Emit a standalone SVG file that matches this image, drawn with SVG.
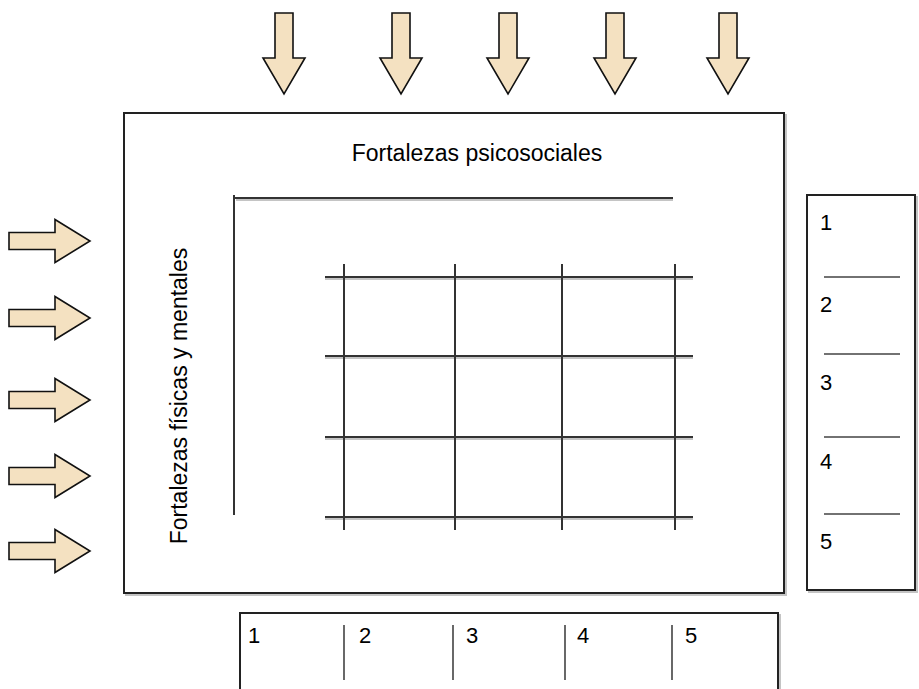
<svg xmlns="http://www.w3.org/2000/svg" width="919" height="689" viewBox="0 0 919 689">
  <style>
    .arrow { fill: #f4e1c1; stroke: #111; stroke-width: 1.6; stroke-linejoin: miter; }
    .frame { fill: #fff; stroke: #222; stroke-width: 2; }
    .shadow { fill: none; stroke: #c4c4c4; stroke-width: 2; }
    .line { fill: none; stroke: #333; stroke-width: 2; }
    .sep { fill: none; stroke: #444; stroke-width: 1.6; }
    .label { font-family: "Liberation Sans", Arial, sans-serif; fill: #000; }
    .num { font-family: "Liberation Sans", Arial, sans-serif; font-size: 22px; fill: #000; }
  </style>
  <defs>
    <path id="arrowDown" class="arrow" d="M -9 13 L 9 13 L 9 58 L 21 58 L 0 94 L -21 58 L -9 58 Z"/>
    <path id="arrowRight" class="arrow" d="M 9 -8.5 L 55 -8.5 L 55 -21.5 L 90 0 L 55 21.5 L 55 8.5 L 9 8.5 Z"/>
  </defs>
  <rect width="919" height="689" fill="#fff"/>

  <!-- input arrows from above -->
  <g id="arrows-top">
    <use href="#arrowDown" x="284"/>
    <use href="#arrowDown" x="401"/>
    <use href="#arrowDown" x="508"/>
    <use href="#arrowDown" x="615"/>
    <use href="#arrowDown" x="728"/>
  </g>

  <!-- input arrows from the left -->
  <g id="arrows-left">
    <use href="#arrowRight" y="241"/>
    <use href="#arrowRight" y="318"/>
    <use href="#arrowRight" y="400"/>
    <use href="#arrowRight" y="476"/>
    <use href="#arrowRight" y="551"/>
  </g>

  <!-- main panel -->
  <g id="main-panel">
    <rect x="126" y="115" width="660" height="480" fill="none" stroke="#c4c4c4" stroke-width="2"/>
    <rect class="frame" x="124" y="113" width="660" height="480"/>
    <text class="label" x="477" y="161" font-size="23" text-anchor="middle">Fortalezas psicosociales</text>
    <text class="label" font-size="23" text-anchor="middle" transform="translate(187 396) rotate(-90)">Fortalezas físicas y mentales</text>
  </g>

  <!-- axes and grid -->
  <g id="grid">
    <path class="shadow" d="M 236 200 L 673 200"/>
    <path class="line" d="M 234 198 L 673 198 M 234 195 L 234 515"/>
    <path class="shadow" d="M 325 279 L 693 279 M 325 358 L 693 358 M 325 439 L 693 439 M 325 519 L 693 519"/>
    <path class="line" d="M 325 277 L 693 277 M 325 356 L 693 356 M 325 437 L 693 437 M 325 517 L 693 517"/>
    <path class="line" d="M 344 264 L 344 530 M 455 264 L 455 530 M 562 264 L 562 530 M 675 264 L 675 530"/>
  </g>

  <!-- vertical scale -->
  <g id="scale-right">
    <rect x="809" y="197" width="108" height="395" fill="none" stroke="#c4c4c4" stroke-width="2"/>
    <rect class="frame" x="807" y="195" width="108" height="395"/>
    <path class="sep" d="M 824 277 L 900 277 M 824 354 L 900 354 M 824 437 L 900 437 M 824 514 L 900 514"/>
    <text class="num" x="820" y="230">1</text>
    <text class="num" x="820" y="312">2</text>
    <text class="num" x="820" y="390">3</text>
    <text class="num" x="820" y="469">4</text>
    <text class="num" x="820" y="549">5</text>
  </g>

  <!-- horizontal scale -->
  <g id="scale-bottom">
    <rect x="242" y="615" width="538" height="80" fill="none" stroke="#c4c4c4" stroke-width="2"/>
    <rect class="frame" x="240" y="613" width="538" height="80"/>
    <path class="sep" d="M 344 625 L 344 680 M 453 625 L 453 680 M 565 625 L 565 680 M 672 625 L 672 680"/>
    <text class="num" x="248" y="643">1</text>
    <text class="num" x="359" y="643">2</text>
    <text class="num" x="466" y="643">3</text>
    <text class="num" x="577" y="643">4</text>
    <text class="num" x="685" y="643">5</text>
  </g>
</svg>
